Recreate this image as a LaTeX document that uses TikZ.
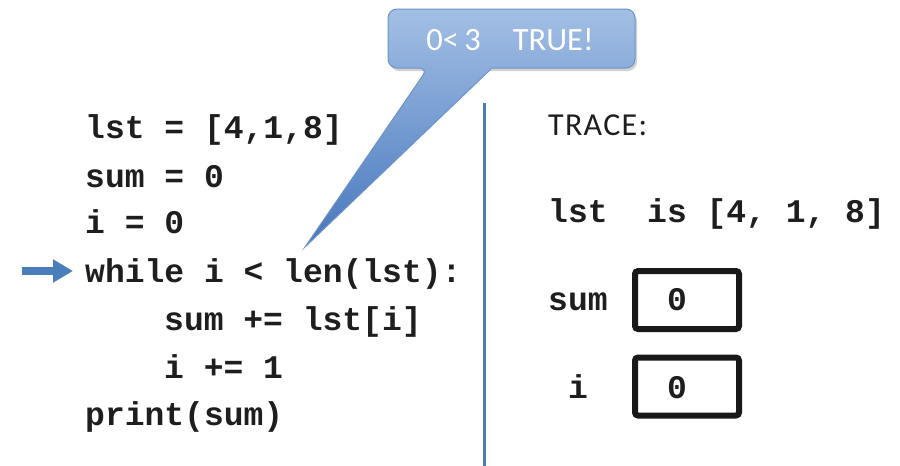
\documentclass[tikz,border=0pt]{standalone}
\usepackage{fontspec}
\setmainfont{Carlito}
\newfontfamily\codefont{Liberation Mono}
\newfontfamily\labelfont{Carlito}[LetterSpace=4]
\usetikzlibrary{arrows.meta,shadings}

\definecolor{lineblue}{HTML}{4A7EBB}
\definecolor{calloutTop}{HTML}{A3BFE5}
\definecolor{calloutBottom}{HTML}{4677BC}
\definecolor{calloutEdge}{HTML}{6E93C6}
\definecolor{textgray}{HTML}{1E1E1E}

\tikzset{
  code/.style={inner sep=0pt, anchor=base west, text=textgray,
    font=\codefont\bfseries\fontsize{33}{33}\selectfont},
  varbox/.style={draw=black!90, line width=6pt, rounded corners=3pt,
    minimum width=104pt, minimum height=58pt, inner sep=0pt},
  pointer/.style={draw=lineblue, line width=8pt,
    -{Triangle[width=22pt,length=20pt]}},
  divider/.style={draw=lineblue, line width=3pt},
}

\begin{document}
\begin{tikzpicture}[x=1pt, y=-1pt]
\useasboundingbox (0,0) rectangle (900,466);

% program listing
\node[code] (l1) at (85,138) {lst = [4,1,8]};
\node[code] (l2) at (85,187) {sum = 0};
\node[code] (l3) at (85,233) {i = 0};
\node[code] (l4) at (85,282) {while i < len(lst):};
\node[code] (l5) at (164,330) {sum += lst[i]};
\node[code] (l6) at (164,378) {i += 1};
\node[code] (l7) at (85,425) {print(sum)};

% current-line marker
\coordinate (mtail) at (22,271);
\coordinate (mhead) at (73,271);
\draw[pointer] (mtail) -- (mhead);

% divider between code and trace
\coordinate (dtop) at (484,103);
\coordinate (dbot) at (484,466);
\draw[divider] (dtop) -- (dbot);

% callout bubble with its pointer
\fill[black, opacity=0.18]
  ([shift={(2,3)}]492,68) [rounded corners=9pt] -- ([shift={(2,3)}]635,68)
  -- ([shift={(2,3)}]635,9) -- ([shift={(2,3)}]388,9) -- ([shift={(2,3)}]388,68)
  -- ([shift={(2,3)}]428,68) [sharp corners] -- cycle;
\path[draw=calloutEdge, line width=1pt, top color=calloutTop, bottom color=calloutBottom]
  (492,68) [rounded corners=9pt] -- (635,68) -- (635,9) -- (388,9) -- (388,68)
  -- (428,68) [sharp corners] -- (305,247) -- cycle;
\node[inner sep=0pt, anchor=base, text=white, font=\fontsize{32.5}{32.5}\selectfont]
  (cond) at (510,50) {0<\,3\hspace{32pt}TRUE!};

% trace panel
\node[inner sep=0pt, anchor=base west, text=textgray,
  font=\labelfont\fontsize{32}{32}\selectfont] (trace) at (548,135) {TRACE:};
\node[code] (tlst) at (548,222) {lst\ \ is [4, 1, 8]};
\node[code] (tsum) at (548,310) {sum};
\node[code] (ti) at (568,398) {i};

\node[varbox] (sumbox) at (687,300) {};
\node[varbox] (ibox) at (687,386.5) {};
\node[code, anchor=base] (sumval) at (677,310) {0};
\node[code, anchor=base] (ival) at (677,398) {0};
\end{tikzpicture}
\end{document}
